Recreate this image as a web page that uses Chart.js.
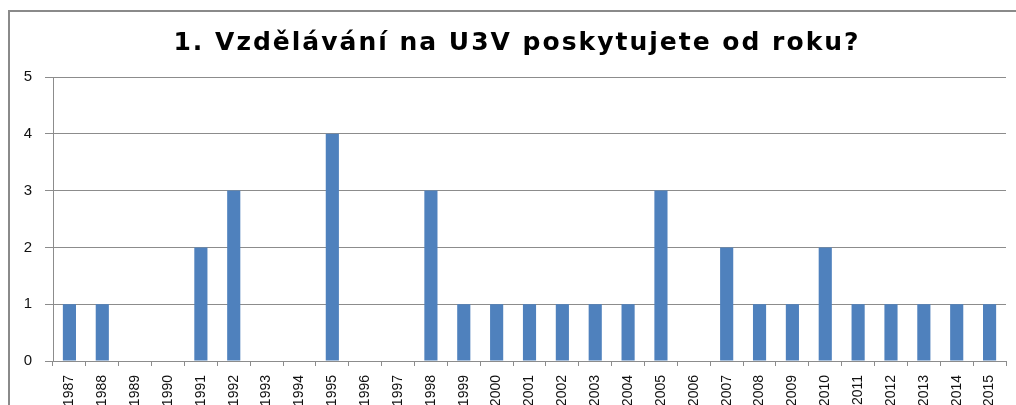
<!DOCTYPE html>
<html><head><meta charset="utf-8">
<script src="https://cdn.jsdelivr.net/npm/chart.js@4"></script>
<style>html,body{margin:0;padding:0;background:#fff}#wrap{width:1016px;height:405px;position:relative}</style>
</head><body><div id="wrap"><canvas id="c" width="1016" height="405"></canvas></div>
<script>
const chartTitle = '1. Vzdělávání na U3V poskytujete od roku?';
const years = ['1987','1988','1989','1990','1991','1992','1993','1994','1995','1996','1997','1998','1999','2000','2001','2002','2003','2004','2005','2006','2007','2008','2009','2010','2011','2012','2013','2014','2015'];
const counts = [1,1,0,0,2,3,0,0,4,0,0,3,1,1,1,1,1,1,3,0,2,1,1,2,1,1,1,1,1];
const yMin = 0, yMax = 5, yStep = 1;

const GRID = '#8c8c8c';
const frameAndTitle = {
  id: 'frameAndTitle',
  beforeDraw(chart) {
    const ctx = chart.ctx;
    ctx.save();
    ctx.fillStyle = '#fff';
    ctx.fillRect(0, 0, chart.width, chart.height);
    ctx.strokeStyle = '#8a8a8a';
    ctx.lineWidth = 2;
    ctx.strokeRect(9, 11, 1030, 430);
    ctx.restore();
  },
  afterDraw(chart) {
    const ctx = chart.ctx;
    ctx.save();
    ctx.fillStyle = '#000';
    ctx.font = 'bold 25px "DejaVu Sans"';
    ctx.letterSpacing = '2px';
    ctx.textAlign = 'center';
    ctx.textBaseline = 'alphabetic';
    ctx.fillText(chartTitle, 517, 50);
    ctx.restore();
  }
};

new Chart(document.getElementById('c'), {
  type: 'bar',
  data: {
    labels: years,
    datasets: [{
      data: counts,
      backgroundColor: '#4F81BD',
      barPercentage: 0.4,
      categoryPercentage: 1.0
    }]
  },
  options: {
    responsive: false,
    animation: false,
    devicePixelRatio: 1,
    layout: { padding: { top: 77, left: 0, right: 10, bottom: 0 } },
    plugins: { legend: { display: false }, tooltip: { enabled: false }, title: { display: false } },
    scales: {
      y: {
        min: yMin, max: yMax,
        ticks: { stepSize: yStep, padding: 13, color: '#111', font: { family: 'Liberation Sans', size: 15 } },
        grid: { color: GRID, tickLength: 8, tickColor: GRID },
        border: { color: GRID },
        afterFit(s) { s.width = 53; }
      },
      x: {
        offset: true,
        ticks: { minRotation: 90, maxRotation: 90, autoSkip: false, padding: 9, color: '#111', font: { family: 'Liberation Sans', size: 14 } },
        grid: { drawOnChartArea: false, tickLength: 5, color: GRID, offset: true },
        border: { color: GRID },
        afterFit(s) { s.height = 44; }
      }
    }
  },
  plugins: [frameAndTitle]
});
</script>
</body></html>
